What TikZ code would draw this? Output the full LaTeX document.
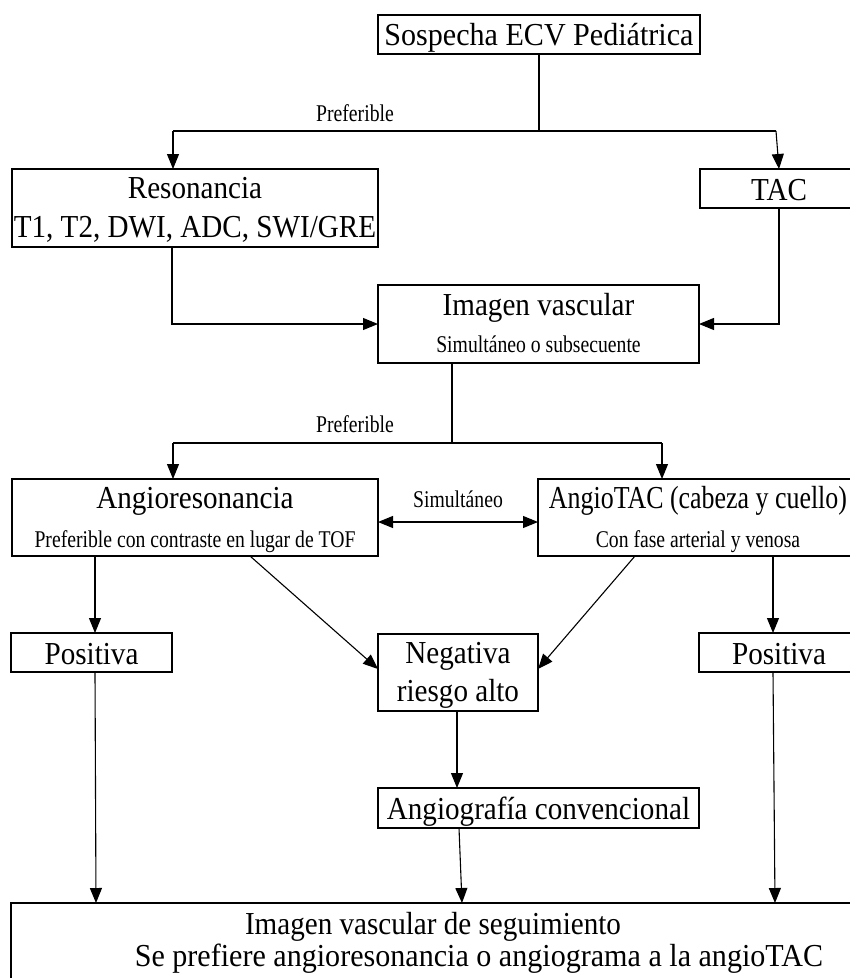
\documentclass[tikz,border=0pt]{standalone}
\usepackage{fontspec}
\setmainfont{Liberation Serif}
% slightly condensed serif faces for box titles and notes
\newfontfamily\titlefont[FakeStretch=0.91]{Liberation Serif}
\newfontfamily\tightfont[FakeStretch=0.81]{Liberation Serif}
\newfontfamily\loosefont[FakeStretch=0.94]{Liberation Serif}
\newfontfamily\notefont[FakeStretch=0.82]{Liberation Serif}
\usetikzlibrary{arrows.meta}
\begin{document}
\begin{tikzpicture}[x=1pt,y=-1pt,
  box/.style={draw, line width=2pt, inner sep=0pt, outer sep=0pt, anchor=north west},
  big/.style={font=\titlefont\fontsize{32}{36}\selectfont, anchor=base, inner sep=0pt},
  bignarrow/.style={font=\tightfont\fontsize{32}{36}\selectfont, anchor=base, inner sep=0pt},
  bigwide/.style={font=\loosefont\fontsize{32}{36}\selectfont, anchor=base, inner sep=0pt},
  small/.style={font=\notefont\fontsize{24}{28}\selectfont, anchor=base, inner sep=0pt},
  plain/.style={line width=1.1pt},
  conn/.style={line width=1.1pt, -{Triangle[length=15pt,width=12pt]}},
  dbl/.style={line width=1.1pt, {Triangle[length=15pt,width=12pt]}-{Triangle[length=15pt,width=12pt]}},
]
\useasboundingbox (0,0) rectangle (850,978);
\clip (0,0) rectangle (850,978);

% ---- boxes ----
\node[box, minimum width=322pt, minimum height=39pt] (sosp)  at (378,15)  {};
\node[box, minimum width=366pt, minimum height=78pt] (res)   at (12,169)  {};
\node[box, minimum width=158pt, minimum height=39pt] (tac)   at (700,169) {};
\node[box, minimum width=321pt, minimum height=78pt] (iv)    at (378,285) {};
\node[box, minimum width=366pt, minimum height=77pt] (angr)  at (12,479)  {};
\node[box, minimum width=320pt, minimum height=77pt] (angt)  at (538,479) {};
\node[box, minimum width=161pt, minimum height=39pt] (posl)  at (11,633)  {};
\node[box, minimum width=160pt, minimum height=77pt] (neg)   at (378,634) {};
\node[box, minimum width=159pt, minimum height=39pt] (posr)  at (699,633) {};
\node[box, minimum width=321pt, minimum height=40pt] (angio) at (378,788) {};
\node[box, minimum width=900pt, minimum height=90pt] (seg)   at (11,903)  {};

% ---- texts ----
\node[bigwide] (tsosp) at (539,45) {Sospecha ECV Pediátrica};
\node[big] (tres1) at (195,198) {Resonancia};
\node[big] (tres2) at (195,237) {T1, T2, DWI, ADC, SWI/GRE};
\node[big] (ttac) at (779,200) {TAC};
\node[big] (tiv1) at (538.5,315) {Imagen vascular};
\node[small] (tiv2) at (538.5,352) {Simultáneo o subsecuente};
\node[big] (tangr1) at (195,508) {Angioresonancia};
\node[small] (tangr2) at (195,547) {Preferible con contraste en lugar de TOF};
\node[bignarrow] (tangt1) at (698,508) {AngioTAC (cabeza y cuello)};
\node[small] (tangt2) at (698,547) {Con fase arterial y venosa};
\node[big] (tposl) at (91.5,664) {Positiva};
\node[big] (tneg1) at (458,663) {Negativa};
\node[big] (tneg2) at (458,701) {riesgo alto};
\node[big] (tposr) at (779,664) {Positiva};
\node[big] (tangio) at (538.5,819) {Angiografía convencional};
\node[big] (tseg1) at (433,934) {Imagen vascular de seguimiento};
\node[bigwide] (tseg2) at (479,966) {Se prefiere angioresonancia o angiograma a la angioTAC};

% ---- branch labels ----
\node[small] (lpref1) at (355,121) {Preferible};
\node[small] (lpref2) at (355,432) {Preferible};
\node[small] (lsim) at (458,507) {Simultáneo};

% ---- helper coordinates ----
\coordinate (j1)  at (539,131);
\coordinate (j1l) at (173,131);
\coordinate (j1r) at (776,131);
\coordinate (xtac) at (779,0);
\coordinate (xres) at (172,0);
\coordinate (j2)  at (452,443);
\coordinate (j2l) at (173,443);
\coordinate (j2r) at (662,443);
\coordinate (ymid) at (0,522);
\coordinate (yneg) at (0,669);
\coordinate (x95) at (95,0);
\coordinate (x96) at (96,0);
\coordinate (x250) at (250,0);
\coordinate (x635) at (635,0);
\coordinate (x773) at (773,0);
\coordinate (x775) at (775,0);
\coordinate (x457) at (457,0);
\coordinate (x459) at (459,0);
\coordinate (x462) at (462,0);

% ---- connectors ----
\draw[plain] (sosp.south -| j1) -- (j1);
\draw[plain] (j1l) -- (j1r);
\draw[conn] (j1l) -- (j1l |- res.north);
\draw[conn] (j1r) -- (tac.north -| xtac);

\draw[conn] (res.south -| xres) |- (iv.west);
\draw[conn] (tac.south -| xtac) |- (iv.east);

\draw[plain] (iv.south -| j2) -- (j2);
\draw[plain] (j2l) -- (j2r);
\draw[conn] (j2l) -- (j2l |- angr.north);
\draw[conn] (j2r) -- (j2r |- angt.north);

\draw[dbl] (angr.east |- ymid) -- (angt.west |- ymid);

\draw[conn] (angr.south -| x95) -- (posl.north -| x95);
\draw[conn] (angr.south -| x250) -- (neg.west |- yneg);
\draw[conn] (angt.south -| x635) -- (neg.east |- yneg);
\draw[conn] (angt.south -| x773) -- (posr.north -| x773);

\draw[conn] (neg.south -| x457) -- (angio.north -| x457);

\draw[conn] (posl.south -| x95) -- (seg.north -| x96);
\draw[conn] (angio.south -| x459) -- (seg.north -| x462);
\draw[conn] (posr.south -| x773) -- (seg.north -| x775);
\end{tikzpicture}
\end{document}
